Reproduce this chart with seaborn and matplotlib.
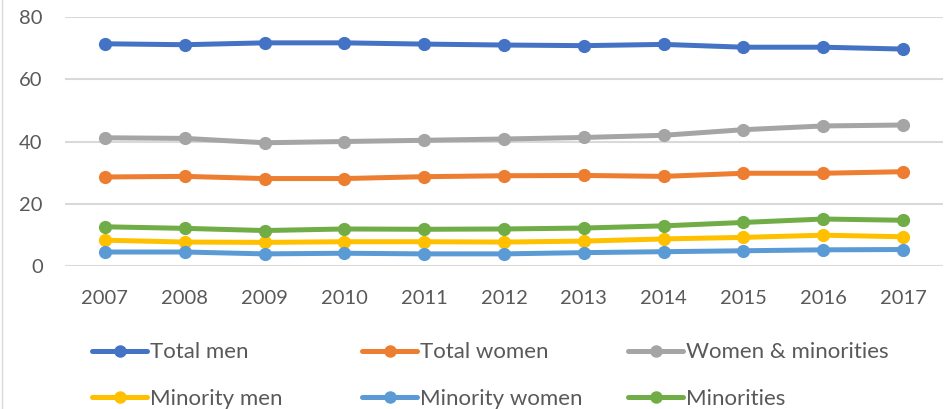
import matplotlib
matplotlib.use("Agg")
import matplotlib.pyplot as plt
from matplotlib.lines import Line2D
import seaborn as sns
import pandas as pd

# values (percent)
years = ["2007", "2008", "2009", "2010", "2011", "2012",
         "2013", "2014", "2015", "2016", "2017"]
total_men = [71.4, 71.1, 71.7, 71.7, 71.3, 71.0, 70.8, 71.2, 70.3, 70.3, 69.7]
total_women = [28.6, 28.8, 28.1, 28.1, 28.7, 29.0, 29.1, 28.8, 29.8, 29.8, 30.3]
women_minorities = [41.2, 41.0, 39.6, 40.0, 40.4, 40.8, 41.3, 42.0, 43.8, 45.0, 45.3]
minority_men = [8.3, 7.7, 7.6, 7.8, 7.8, 7.7, 8.0, 8.7, 9.2, 9.9, 9.4]
minority_women = [4.5, 4.5, 3.9, 4.1, 3.9, 3.9, 4.3, 4.6, 4.9, 5.2, 5.3]
minorities = [12.6, 12.1, 11.4, 11.9, 11.8, 11.9, 12.2, 12.9, 14.0, 15.1, 14.7]

series_names = ["Total men", "Total women", "Women & minorities",
                "Minority men", "Minority women", "Minorities"]
series_values = [total_men, total_women, women_minorities,
                 minority_men, minority_women, minorities]
colors = ["#4472C4", "#ED7D31", "#A5A5A5", "#FFC000", "#5B9BD5", "#70AD47"]

rows = []
for name, vals in zip(series_names, series_values):
    for yr, v in zip(years, vals):
        rows.append({"year": yr, "value": v, "series": name})
df = pd.DataFrame(rows)

sns.set_style("white")
plt.rcParams["font.family"] = ["Lato", "DejaVu Sans"]
text_color = "#595959"

fig = plt.figure(figsize=(9.47, 4.09), dpi=100)
ax = fig.add_axes([0.0686, 0.3496, 0.9272, 0.6088])

sns.lineplot(data=df, x="year", y="value", hue="series",
             hue_order=series_names, palette=colors, marker="o",
             markersize=9.5, markeredgewidth=0, linewidth=3.6,
             legend=False, ax=ax)

ax.set_xlim(-0.5, len(years) - 0.5)
ax.set_ylim(0, 80)
ax.set_yticks([0, 20, 40, 60, 80])
ax.yaxis.grid(True, color="#D9D9D9", linewidth=1.5)
ax.set_axisbelow(True)
for s in ax.spines.values():
    s.set_visible(False)
ax.tick_params(axis="both", length=0, labelsize=14.5, labelcolor=text_color)
ax.tick_params(axis="x", pad=17)
ax.tick_params(axis="y", pad=16)
ax.set_xlabel("")
ax.set_ylabel("")

# legend: three columns of two entries, laid out like the Excel legend
handles = [Line2D([], [], color=c, linewidth=3.6, marker="o",
                  markersize=9, markeredgewidth=0) for c in colors]
col_x = [0.097, 0.382, 0.663]
for i, x in enumerate(col_x):
    idx = [i, i + 3]
    leg = fig.legend([handles[j] for j in idx], [series_names[j] for j in idx],
                     loc="upper left", bbox_to_anchor=(x, 0.163),
                     frameon=False, fontsize=16, handlelength=2.5,
                     handletextpad=0.12, labelspacing=1.2,
                     borderpad=0, borderaxespad=0)
    for t in leg.get_texts():
        t.set_color(text_color)

fig.add_artist(Line2D([0.002, 0.002], [0, 1], transform=fig.transFigure,
                      color="#D9D9D9", linewidth=1))

fig.savefig("out.png", dpi=100)
